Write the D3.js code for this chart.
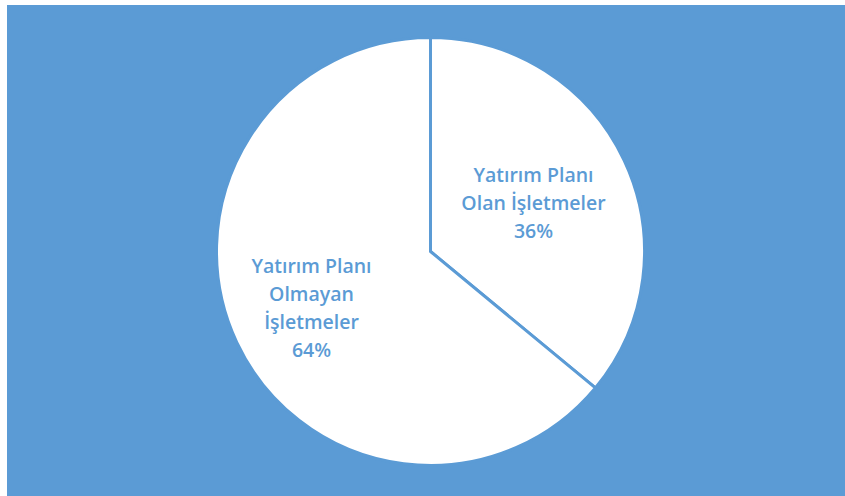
<!DOCTYPE html>
<html><head><meta charset="utf-8">
<script src="https://cdn.jsdelivr.net/npm/d3@7/dist/d3.min.js"></script>
<style>html,body{margin:0;padding:0;background:#fff;overflow:hidden}</style>
</head><body>
<script>
const categories = ["Yatırım Planı Olan İşletmeler", "Yatırım Planı Olmayan İşletmeler"];
const values = [36, 64];
const labelLines = [["Yatırım Planı", "Olan İşletmeler", "36%"], ["Yatırım Planı", "Olmayan", "İşletmeler", "64%"]];

const W = 845, H = 496;
const blue = "#5B9BD5";
const svg = d3.select("body").append("svg").attr("width", W).attr("height", H);
svg.append("rect").attr("x", 7).attr("y", 5).attr("width", W - 7).attr("height", H - 5).attr("fill", blue);

const cx = 430.5, cy = 251.5, r = 214;
const g = svg.append("g").attr("transform", `translate(${cx},${cy})`);
const pie = d3.pie().sort(null).value(d => d)(values);
const arc = d3.arc().innerRadius(0).outerRadius(r);
g.selectAll("path").data(pie).join("path")
  .attr("d", arc).attr("fill", "#fff").attr("stroke", blue).attr("stroke-width", 3).attr("stroke-linejoin", "round");

const labelPos = [[103, -48.5], [-119, 57]];
const lh = 28;
pie.forEach((p, i) => {
  const lines = labelLines[i];
  const [lx, ly] = labelPos[i];
  const t = g.append("text").attr("text-anchor", "middle").attr("fill", blue)
    .attr("font-family", "'Open Sans', sans-serif").attr("font-size", 19.5).attr("font-weight", 600);
  lines.forEach((s, j) => {
    t.append("tspan").attr("x", lx).attr("y", ly + (j - (lines.length - 1) / 2) * lh).attr("dy", "0.35em").text(s);
  });
});
</script>
</body></html>
